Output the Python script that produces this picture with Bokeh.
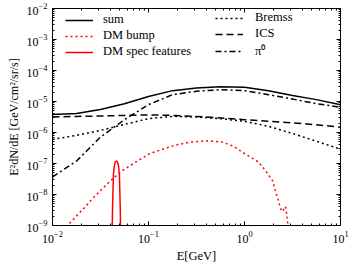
from bokeh.plotting import figure
from bokeh.models import Range1d, FixedTicker, LogAxis, Legend, LegendItem, CustomJSTickFormatter
from bokeh.embed import file_html
from bokeh.resources import INLINE

# ---- data ----
E = [0.01, 0.0178, 0.0316, 0.0562, 0.1, 0.178, 0.316, 0.562, 1.0, 1.78, 3.16, 5.62, 10.0]
sum_flux = [3.8e-6, 4.07e-6, 5.5e-6, 8.5e-6, 1.45e-5, 2.24e-5, 2.75e-5, 3.0e-5, 2.9e-5,
            2.24e-5, 1.55e-5, 1.15e-5, 7.9e-6]
ics_flux = [3.16e-6, 3.3e-6, 3.4e-6, 3.55e-6, 3.7e-6, 3.55e-6, 3.3e-6, 2.95e-6, 2.6e-6,
            2.3e-6, 2.05e-6, 1.78e-6, 1.48e-6]
brems_flux = [6.0e-7, 8.1e-7, 1.17e-6, 1.82e-6, 2.8e-6, 3.3e-6, 3.16e-6, 2.8e-6, 2.3e-6,
              1.58e-6, 9.3e-7, 5.2e-7, 2.9e-7]
pi0_flux = [3.7e-8, 1.2e-7, 7.1e-7, 2.6e-6, 7.9e-6, 1.66e-5, 2.14e-5, 2.4e-5, 2.24e-5,
            1.66e-5, 1.2e-5, 8.5e-6, 6.5e-6]

bump_E = [0.0127, 0.0143, 0.0205, 0.0261, 0.0332, 0.0402, 0.0487, 0.055, 0.0681, 0.0825,
          0.1, 0.14, 0.191, 0.274, 0.422, 0.59, 0.768, 0.953, 1.155, 1.40, 1.66, 1.96,
          2.10, 2.26, 2.37, 2.49, 2.67, 2.74, 2.80, 2.87]
bump_flux = [6.9e-10, 1.0e-9, 3.2e-9, 7.4e-9, 1.55e-8, 2.77e-8, 4.6e-8, 6.2e-8, 9.6e-8, 1.38e-7,
             2.0e-7, 2.9e-7, 3.9e-7, 4.9e-7, 5.4e-7, 4.9e-7, 3.6e-7, 2.3e-7, 1.6e-7, 1.12e-7,
             5.8e-8, 2.8e-8, 1.32e-8, 6.3e-9, 3.5e-9, 2.8e-9, 4.1e-9, 2.6e-9, 1.45e-9, 6.9e-10]

spec_E = [0.0417, 0.0422, 0.0427, 0.0432, 0.0443, 0.0453, 0.0465, 0.0475, 0.0486, 0.0497,
          0.0502, 0.0508, 0.0513]
spec_flux = [3.9e-10, 3.5e-9, 1.55e-8, 4.6e-8, 9.5e-8, 1.15e-7, 1.2e-7, 1.12e-7, 8.9e-8,
             4.6e-8, 1.55e-8, 3.5e-9, 3.9e-10]

x_major = [1e-2, 1e-1, 1e0, 1e1]
y_major = [1e-9, 1e-8, 1e-7, 1e-6, 1e-5, 1e-4, 1e-3, 1e-2]

FONT = "Liberation Serif"

p = figure(width=353, height=265, x_axis_type="log", y_axis_type="log",
           x_range=Range1d(1e-2, 1e1), y_range=Range1d(1e-9, 1e-2),
           output_backend="svg", toolbar_location=None,
           min_border_left=52, min_border_right=13, min_border_top=8, min_border_bottom=38)
p.margin = (0, 0, 0, 0)
p.xgrid.visible = False
p.ygrid.visible = False
p.outline_line_color = "black"
p.outline_line_width = 1
p.background_fill_color = "white"
p.border_fill_color = "white"

def minors(majors):
    out = []
    for m in majors[:-1]:
        out += [k * m for k in range(2, 10)]
    return out

xt = FixedTicker(ticks=x_major, minor_ticks=minors(x_major))
yt = FixedTicker(ticks=y_major, minor_ticks=minors(y_major))

def style(ax, ticker, labels=True):
    ax.ticker = ticker
    ax.axis_line_color = "black"
    ax.major_tick_line_color = "black"
    ax.minor_tick_line_color = "black"
    ax.major_tick_in = 4
    ax.major_tick_out = 0
    ax.minor_tick_in = 2
    ax.minor_tick_out = 0
    ax.major_label_text_font = FONT
    ax.major_label_text_color = "black"
    ax.major_label_text_font_size = "12px"
    ax.axis_label_text_font = FONT
    ax.axis_label_text_font_style = "normal"
    ax.axis_label_text_color = "black"
    if not labels:
        ax.formatter = CustomJSTickFormatter(code="return ''")
        ax.major_label_standoff = 0

style(p.xaxis[0], xt)
style(p.yaxis[0], yt)
p.xaxis[0].axis_label = "E[GeV]"
p.xaxis[0].axis_label_text_font_size = "12.5px"
p.xaxis[0].axis_label_standoff = 3
p.yaxis[0].axis_label = "E²dN/dE [GeV/cm²/sr/s]"
p.yaxis[0].axis_label_text_font_size = "12px"
p.yaxis[0].axis_label_standoff = 3

ra = LogAxis(); style(ra, yt, labels=False)
ta = LogAxis(); style(ta, xt, labels=False)
p.add_layout(ra, "right")
p.add_layout(ta, "above")

r_sum = p.line(E, sum_flux, line_color="black", line_width=1.5)
r_bump = p.line(bump_E, bump_flux, line_color="#ff0000", line_width=1.5, line_dash="2 3")
r_spec = p.line(spec_E, spec_flux, line_color="#ff0000", line_width=1.5)
r_brems = p.line(E, brems_flux, line_color="black", line_width=1.5, line_dash="2 3")
r_ics = p.line(E, ics_flux, line_color="black", line_width=1.5, line_dash="7 4")
r_pi0 = p.line(E, pi0_flux, line_color="black", line_width=1.5, line_dash="6 3 2 3")

def make_legend(items, vx, standoff):
    leg = Legend(items=items, location=(vx, 166), orientation="vertical",
                 padding=0, margin=0, spacing=1, glyph_width=28, glyph_height=14,
                 label_height=14, label_standoff=standoff,
                 border_line_color=None, background_fill_alpha=0,
                 label_text_font=FONT, label_text_font_size="12.5px",
                 label_text_color="black")
    return leg

leg1 = make_legend([LegendItem(label="sum", renderers=[r_sum]),
                    LegendItem(label="DM bump", renderers=[r_bump]),
                    LegendItem(label="DM spec features", renderers=[r_spec])], 13, 10)
leg2 = make_legend([LegendItem(label="Bremss", renderers=[r_brems]),
                    LegendItem(label="ICS", renderers=[r_ics]),
                    LegendItem(label="π⁰", renderers=[r_pi0])], 163, 12)
p.add_layout(leg1)
p.add_layout(leg2)

open("out.html", "w").write(file_html(p, INLINE))
